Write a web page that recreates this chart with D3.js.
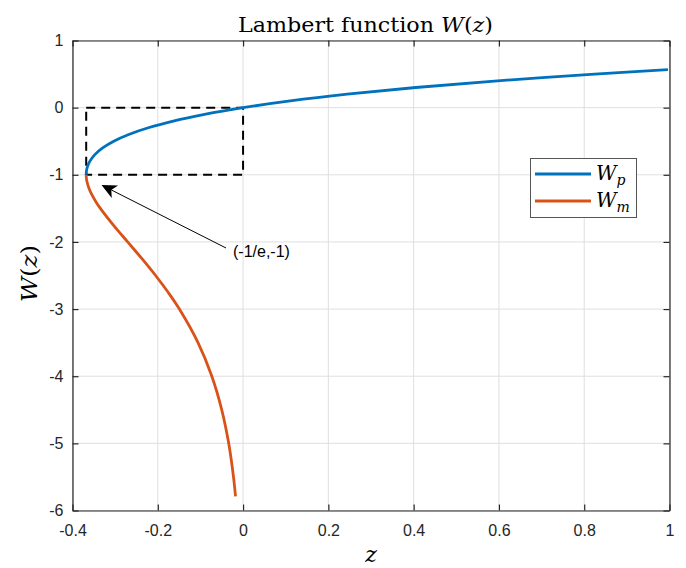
<!DOCTYPE html>
<html><head><meta charset="utf-8">
<script src="https://cdn.jsdelivr.net/npm/d3@7"></script>
<style>body{margin:0;background:#fff}svg{display:block}</style>
</head><body>
<script>
// Principal branch W_p : (z, W) samples
const wpZ = [-0.36788,-0.36780,-0.36771,-0.36740,-0.36693,-0.36591,-0.36330,-0.35946,-0.34761,-0.32929,-0.30327,-0.26813,-0.22225,-0.16375,-0.09048,0,0.11052,0.24428,0.40496,0.59673,0.82436,0.99630];
const wpW = [-1,-0.98,-0.97,-0.95,-0.93,-0.9,-0.85,-0.8,-0.7,-0.6,-0.5,-0.4,-0.3,-0.2,-0.1,0,0.1,0.2,0.3,0.4,0.5,0.566];
// Lower branch W_m
const wmZ = [-0.36788,-0.36744,-0.36616,-0.36143,-0.35429,-0.34524,-0.33470,-0.30410,-0.27067,-0.23715,-0.20521,-0.17580,-0.14936,-0.10569,-0.07326,-0.04999,-0.03369,-0.02248,-0.01770];
const wmW = [-1,-1.05,-1.1,-1.2,-1.3,-1.4,-1.5,-1.75,-2,-2.25,-2.5,-2.75,-3,-3.5,-4,-4.5,-5,-5.5,-5.79];
const xTicks = [-0.4,-0.2,0,0.2,0.4,0.6,0.8,1];
const yTicks = [1,0,-1,-2,-3,-4,-5,-6];
const boxZ = [-0.36788, 0];
const boxW = [-1, 0];

const W = 686, H = 568;
const m = {l:72.5, r:669.5, t:40.5, b:510.5};
const svg = d3.select("body").append("svg").attr("width",W).attr("height",H);
const x = d3.scaleLinear().domain([-0.4,1]).range([m.l,m.r]);
const y = d3.scaleLinear().domain([-6,1]).range([m.b,m.t]);
const axisCol = "#262626";
const tickFont = "'Liberation Sans', Arial, Helvetica, sans-serif";
const serif = "'DejaVu Serif', 'Liberation Serif', serif";

// grid
const g = svg.append("g");
g.selectAll(".gx").data(xTicks).join("line")
  .attr("x1",d=>x(d)).attr("x2",d=>x(d)).attr("y1",m.t).attr("y2",m.b)
  .attr("stroke","#dfdfdf").attr("stroke-width",1);
g.selectAll(".gy").data(yTicks).join("line")
  .attr("y1",d=>y(d)).attr("y2",d=>y(d)).attr("x1",m.l).attr("x2",m.r)
  .attr("stroke","#dfdfdf").attr("stroke-width",1);

// axes with inside ticks
const tl = 6;
const ax = svg.append("g").attr("transform",`translate(0,${m.b})`)
  .call(d3.axisBottom(x).tickValues(xTicks).tickSizeInner(-tl).tickSizeOuter(0).tickPadding(13).tickFormat(d=>d));
const axT = svg.append("g").attr("transform",`translate(0,${m.t})`)
  .call(d3.axisTop(x).tickValues(xTicks).tickSizeInner(-tl).tickSizeOuter(0).tickFormat(""));
const ay = svg.append("g").attr("transform",`translate(${m.l},0)`)
  .call(d3.axisLeft(y).tickValues(yTicks).tickSizeInner(-tl).tickSizeOuter(0).tickPadding(9).tickFormat(d=>d));
const ayR = svg.append("g").attr("transform",`translate(${m.r},0)`)
  .call(d3.axisRight(y).tickValues(yTicks).tickSizeInner(-tl).tickSizeOuter(0).tickFormat(""));
[ax,axT,ay,ayR].forEach(a=>{
  a.selectAll("path").attr("stroke",axisCol).attr("stroke-width",1.2);
  a.selectAll("line").attr("stroke",axisCol).attr("stroke-width",1.2);
  a.selectAll("text").attr("fill",axisCol).style("font-family",tickFont).style("font-size","16px");
});
ax.selectAll("text").attr("dy","0.8em");

svg.append("defs").append("clipPath").attr("id","c").append("rect")
  .attr("x",m.l).attr("y",m.t).attr("width",m.r-m.l).attr("height",m.b-m.t);

// dashed box
const corners = [[boxZ[0],boxW[1]],[boxZ[1],boxW[1]],[boxZ[1],boxW[0]],[boxZ[0],boxW[0]],[boxZ[0],boxW[1]]];
svg.append("path").attr("d",d3.line().x(d=>x(d[0])).y(d=>y(d[1]))(corners))
  .attr("fill","none").attr("stroke","#000").attr("stroke-width",2).attr("stroke-dasharray","9,6");

// curves
const line = d3.line().x(d=>x(d[0])).y(d=>y(d[1])).curve(d3.curveCatmullRom.alpha(0.5));
const wp = wpZ.map((z,i)=>[z,wpW[i]]);
const wm = wmZ.map((z,i)=>[z,wmW[i]]);
svg.append("path").attr("d",line(wm)).attr("fill","none")
  .attr("stroke","#D95319").attr("stroke-width",2.8).attr("clip-path","url(#c)");
svg.append("path").attr("d",line(wp)).attr("fill","none")
  .attr("stroke","#0072BD").attr("stroke-width",2.8).attr("clip-path","url(#c)");

// annotation arrow
const tail = [226,248], tip = [101.5,185];
const ang = Math.atan2(tip[1]-tail[1], tip[0]-tail[0]);
const hl = 15, hw = 7, back = 4;
const rot = (px,py)=>[tip[0]+px*Math.cos(ang)-py*Math.sin(ang), tip[1]+px*Math.sin(ang)+py*Math.cos(ang)];
svg.append("line").attr("x1",tail[0]).attr("y1",tail[1])
  .attr("x2",rot(-hl+back,0)[0]).attr("y2",rot(-hl+back,0)[1]).attr("stroke","#000").attr("stroke-width",1);
const head = [rot(0,0),rot(-hl,-hw),rot(-hl+back,0),rot(-hl,hw)];
svg.append("path").attr("d","M"+head.map(p=>p.join(",")).join("L")+"Z").attr("fill","#000");
svg.append("text").attr("x",233).attr("y",257).text("(-1/e,-1)")
  .style("font-family",tickFont).style("font-size","16px").attr("fill","#000");

// title & labels
const t = svg.append("text").attr("x",238).attr("y",32)
  .attr("textLength",255).attr("lengthAdjust","spacingAndGlyphs")
  .style("font-family",serif).style("font-size","20px").attr("fill","#000");
t.append("tspan").text("Lambert function ");
t.append("tspan").text("W").style("font-style","italic");
t.append("tspan").text("(");
t.append("tspan").text("z").style("font-style","italic");
t.append("tspan").text(")");

svg.append("text").attr("x",(m.l+m.r)/2).attr("y",562).attr("text-anchor","middle")
  .style("font-family",serif).style("font-size","22px").style("font-style","italic").text("z");

const yl = svg.append("text").attr("transform",`translate(37,302) rotate(-90)`)
  .attr("textLength",57).attr("lengthAdjust","spacingAndGlyphs")
  .style("font-family",serif).style("font-size","22px").attr("fill","#000");
yl.append("tspan").text("W").style("font-style","italic");
yl.append("tspan").text("(");
yl.append("tspan").text("z").style("font-style","italic");
yl.append("tspan").text(")");

// legend
const lg = svg.append("g");
lg.append("rect").attr("x",530.5).attr("y",158.5).attr("width",106).attr("height",59)
  .attr("fill","#fff").attr("stroke","#555").attr("stroke-width",1);
const legItems = [{n:"p",c:"#0072BD",y:174},{n:"m",c:"#D95319",y:201}];
legItems.forEach(it=>{
  lg.append("line").attr("x1",535).attr("x2",591).attr("y1",it.y).attr("y2",it.y)
    .attr("stroke",it.c).attr("stroke-width",2.8);
  const tx = lg.append("text").attr("x",596).attr("y",it.y+6)
    .style("font-family",serif).style("font-size","20px").style("font-style","italic").attr("fill","#000");
  tx.append("tspan").text("W");
  tx.append("tspan").text(it.n).attr("dy",5).style("font-size","14px");
});
</script>
</body></html>
